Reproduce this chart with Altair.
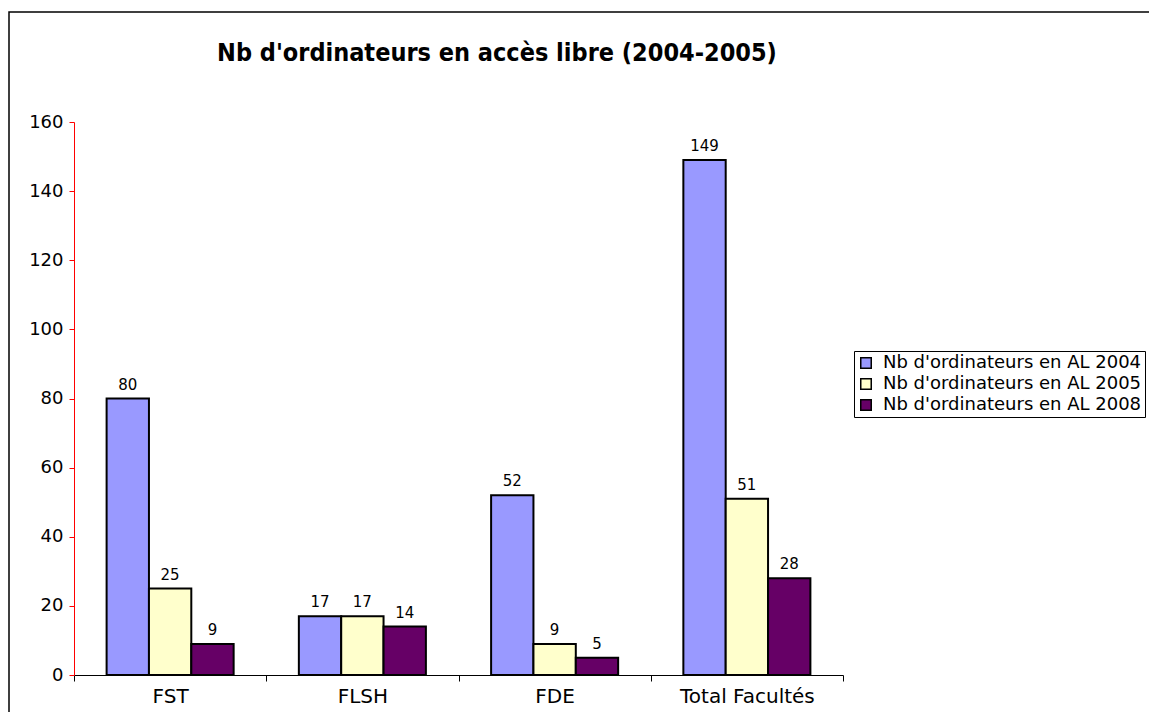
import altair as alt
import pandas as pd

categories = ["FST", "FLSH", "FDE", "Total Facultés"]
series = ["Nb d'ordinateurs en AL 2004", "Nb d'ordinateurs en AL 2005", "Nb d'ordinateurs en AL 2008"]
v2004 = [80, 17, 52, 149]
v2005 = [25, 17, 9, 51]
v2008 = [9, 14, 5, 28]
colors = ["#9999FF", "#FFFFCC", "#660066"]
y_ticks = [0, 20, 40, 60, 80, 100, 120, 140, 160]
title_text = "Nb d'ordinateurs en accès libre (2004-2005)"

rows = []
for s, vals in zip(series, [v2004, v2005, v2008]):
    for c, v in zip(categories, vals):
        rows.append({"cat": c, "serie": s, "val": v})
df = pd.DataFrame(rows)

FONT = "DejaVu Sans"

x = alt.X("cat:N", sort=categories, title=None,
          scale=alt.Scale(paddingInner=0, paddingOuter=0),
          axis=alt.Axis(labelAngle=0, labelFontSize=20, labelColor="black", labelFont=FONT,
                        domainColor="black", tickColor="black", tickSize=6,
                        tickBand="extent", labelPadding=5, domainWidth=1))
y = alt.Y("val:Q", title=None,
          scale=alt.Scale(domain=[0, 160], nice=False),
          axis=alt.Axis(values=y_ticks, grid=False, domainColor="red", tickColor="red",
                        tickSize=5, labelFontSize=18, labelColor="black", labelFont=FONT,
                        labelPadding=6))

xoff_scale = alt.Scale(paddingInner=0, paddingOuter=0.77)

base = alt.Chart(df)

bars = base.mark_bar(stroke="black", strokeWidth=2).encode(
    x=x,
    y=y,
    xOffset=alt.XOffset("serie:N", sort=series, scale=xoff_scale),
    color=alt.Color("serie:N", sort=series, scale=alt.Scale(domain=series, range=colors),
                    legend=alt.Legend(title=None, orient="none", legendX=780, legendY=229,
                                      strokeColor="black", padding=3, symbolType="square",
                                      symbolSize=110, symbolStrokeColor="black",
                                      symbolStrokeWidth=1.5, labelFontSize=18, labelFont=FONT,
                                      labelColor="black", labelLimit=500, rowPadding=3,
                                      labelOffset=8)),
)

labels = base.mark_text(baseline="bottom", dy=-6, fontSize=15, font=FONT, color="black").encode(
    x=alt.X("cat:N", sort=categories),
    y="val:Q",
    xOffset=alt.XOffset("serie:N", sort=series, scale=xoff_scale),
    text="val:Q",
)

frame = alt.Chart(alt.Data(values=[{}])).mark_rect(
    fill=None, stroke="black", strokeWidth=1.5
).encode(
    x=alt.value(-65), y=alt.value(-110), x2=alt.value(1200), y2=alt.value(800)
)

title = alt.Chart(alt.Data(values=[{"t": title_text}])).mark_text(
    fontSize=25, font="DejaVu Sans Condensed", fontWeight="bold", color="black",
    baseline="middle", align="center"
).encode(
    x=alt.value(423), y=alt.value(-69), text="t:N"
)

chart = alt.layer(frame, bars, labels, title).properties(
    width=769, height=553,
    autosize=alt.AutoSizeParams(type="none"),
    padding={"left": 66, "top": 114, "right": 306, "bottom": 37},
).configure_view(stroke=None).configure_axis(labelFont=FONT)

chart.save("out.html", embed_options={"renderer": "svg", "actions": False})
